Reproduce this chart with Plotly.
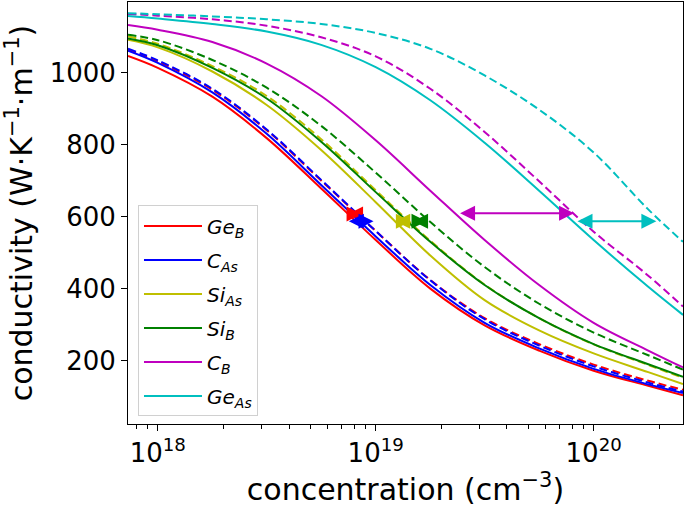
import numpy as np
import plotly.graph_objects as go

# concentration sample points (cm^-3)
conc = [7.3e17, 1e18, 1.78e18, 3.16e18, 5.62e18, 1e19, 1.78e19, 3.16e19, 5.62e19, 1e20, 1.78e20, 2.57e20]

# conductivity values (W K^-1 m^-1)
GeB_solid = [1046, 1013, 933, 818, 678, 535, 400, 298, 228, 172, 130, 104]
GeB_dash = [1063, 1031, 952, 840, 700, 560, 424, 318, 246, 189, 144, 119]
CAs_solid = [1061, 1027, 945, 830, 688, 545, 410, 305, 234, 177, 134, 110]
CAs_dash = [1066, 1034, 955, 842, 702, 560, 423, 315, 242, 184, 139, 114]
SiAs_solid = [1091, 1070, 1003, 910, 785, 640, 492, 368, 284, 220, 168, 135]
SiAs_dash = [1100, 1080, 1018, 935, 815, 673, 533, 411, 318, 245, 188, 152]
SiB_solid = [1095, 1076, 1013, 928, 808, 668, 530, 410, 318, 246, 190, 155]
SiB_dash = [1105, 1090, 1035, 958, 852, 722, 585, 460, 358, 278, 215, 175]
CB_solid = [1132, 1119, 1085, 1025, 935, 812, 672, 535, 410, 305, 228, 181]
CB_dash = [1163, 1158, 1148, 1130, 1098, 1045, 955, 835, 698, 558, 436, 350]
GeAs_solid = [1157, 1150, 1135, 1114, 1077, 1015, 923, 805, 672, 535, 405, 327]
GeAs_dash = [1165, 1162, 1156, 1148, 1135, 1110, 1066, 992, 897, 778, 620, 530]

labels = ["<i>Ge</i><sub><i>B</i></sub>", "<i>C</i><sub><i>As</i></sub>",
          "<i>Si</i><sub><i>As</i></sub>", "<i>Si</i><sub><i>B</i></sub>",
          "<i>C</i><sub><i>B</i></sub>", "<i>Ge</i><sub><i>As</i></sub>"]
colors = ["#FF0000", "#0000FF", "#BFBF00", "#008000", "#BF00BF", "#00BFBF"]
solids = [GeB_solid, CAs_solid, SiAs_solid, SiB_solid, CB_solid, GeAs_solid]
dashes = [GeB_dash, CAs_dash, SiAs_dash, SiB_dash, CB_dash, GeAs_dash]

# arrows: start concentration, end concentration, conductivity level
arrow_start = [7.35e18, 7.41e18, 1.21e19, 1.46e19, 2.40e19, 8.30e19]
arrow_end = [8.61e18, 9.77e18, 1.45e19, 1.71e19, 8.13e19, 1.94e20]
arrow_level = [607, 587, 587, 587, 609, 587]

xticks = [1e18, 1e19, 1e20]
xticktext = ["10<sup>18</sup>", "10<sup>19</sup>", "10<sup>20</sup>"]
xminor = [8e17, 9e17] + [m * 1e18 for m in range(2, 10)] + [m * 1e19 for m in range(2, 10)] + [2e20]
yticks = [200, 400, 600, 800, 1000]

fig = go.Figure()
for i in range(6):
    fig.add_trace(go.Scatter(x=conc, y=dashes[i], mode="lines",
                             line=dict(color=colors[i], width=2, dash="8px,4px", shape="spline"),
                             showlegend=False, hoverinfo="skip"))
for i in range(6):
    fig.add_trace(go.Scatter(x=conc, y=solids[i], mode="lines", name=labels[i],
                             legendgroup=f"g{i}",
                             line=dict(color=colors[i], width=2, shape="spline")))

for i in range(6):
    fig.add_annotation(x=np.log10(arrow_end[i]), y=arrow_level[i],
                       ax=np.log10(arrow_start[i]), ay=arrow_level[i],
                       xref="x", yref="y", axref="x", ayref="y", text="",
                       showarrow=True, arrowside="end+start", arrowhead=2,
                       arrowsize=1.5, arrowwidth=2, arrowcolor=colors[i],
                       standoff=0, startstandoff=0)

font_family = "DejaVu Sans"
fig.update_layout(
    width=685, height=507,
    margin=dict(l=128, r=2, t=2, b=83, autoexpand=False),
    paper_bgcolor="white", plot_bgcolor="white",
    font=dict(family=font_family, color="black"),
    showlegend=True,
    legend=dict(x=0.018, y=0.518, xanchor="left", yanchor="top",
                bgcolor="white", bordercolor="#D0D0D0", borderwidth=1,
                font=dict(size=20, family=font_family), tracegroupgap=5,
                itemwidth=58, traceorder="grouped"),
)
fig.update_xaxes(type="log", range=[np.log10(7.3e17), np.log10(2.57e20)],
                 tickvals=xticks, ticktext=xticktext, automargin=False,
                 ticks="outside", ticklen=6, tickwidth=1, tickcolor="black",
                 minor=dict(tickvals=xminor, ticks="outside", ticklen=3.5, tickwidth=1, tickcolor="black", showgrid=False),
                 showgrid=False, zeroline=False,
                 showline=True, linecolor="black", linewidth=1, mirror=True,
                 tickfont=dict(size=26, family=font_family),
                 title=dict(text="concentration (cm<sup>−3</sup>)", font=dict(size=30, family=font_family), standoff=6))
fig.update_yaxes(range=[24, 1196], tickvals=yticks, automargin=False,
                 ticks="outside", ticklen=6, tickwidth=1, tickcolor="black",
                 showgrid=False, zeroline=False,
                 showline=True, linecolor="black", linewidth=1, mirror=True,
                 tickfont=dict(size=26, family=font_family),
                 title=dict(text="conductivity (W·K<sup>−1</sup>·m<sup>−1</sup>)", font=dict(size=30, family=font_family), standoff=10))

fig.write_html("out.html", config={"displayModeBar": False},
               post_script="document.body.style.margin='0px';document.body.style.overflow='hidden';")
